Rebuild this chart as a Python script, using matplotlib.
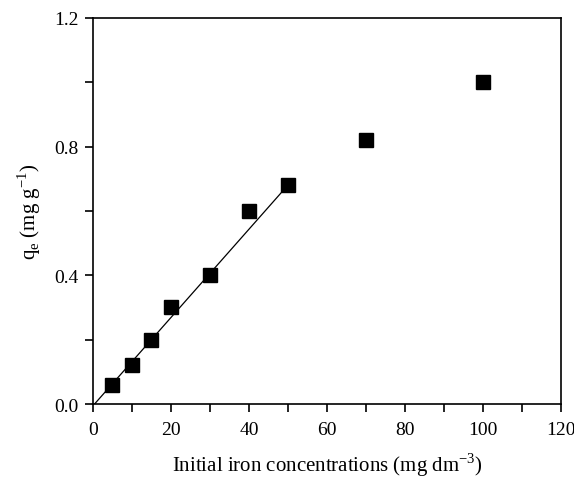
import matplotlib
matplotlib.use("Agg")
import matplotlib.pyplot as plt
from matplotlib.ticker import MultipleLocator, FormatStrFormatter

plt.rcParams['font.family'] = ['Liberation Serif', 'DejaVu Serif']
plt.rcParams['mathtext.fontset'] = 'custom'
plt.rcParams['mathtext.rm'] = 'Liberation Serif'
plt.rcParams['axes.unicode_minus'] = False

conc = [5, 10, 15, 20, 30, 40, 50, 70, 100]
qe = [0.06, 0.12, 0.20, 0.30, 0.40, 0.60, 0.68, 0.82, 1.00]
fit_x = [0.4, 50]
fit_y = [0.0, 0.68]

fig = plt.figure(figsize=(5.74, 4.81), dpi=100)
ax = fig.add_axes([0.162, 0.158, 0.815, 0.803])

ax.plot(fit_x, fit_y, color='black', lw=0.9)
ax.plot(conc, qe, linestyle='none', marker='s', markersize=10.5, color='black')

ax.set_xlim(0, 120)
ax.set_ylim(0, 1.2)
ax.xaxis.set_major_locator(MultipleLocator(20))
ax.xaxis.set_minor_locator(MultipleLocator(10))
ax.yaxis.set_major_locator(MultipleLocator(0.4))
ax.yaxis.set_minor_locator(MultipleLocator(0.2))
ax.yaxis.set_major_formatter(FormatStrFormatter('%.1f'))

ax.tick_params(which='both', direction='out', width=1.2, length=5.5, labelsize=14)
ax.tick_params(axis='x', which='both', pad=7)
ax.tick_params(axis='y', which='both', pad=5)
for s in ax.spines.values():
    s.set_linewidth(1.2)

ax.set_xlabel('Initial iron concentrations (mg dm$^{\\mathregular{-3}}$)', fontsize=15, labelpad=9)
ax.set_ylabel('q$_{\\mathregular{e}}$ (mg g$^{\\mathregular{-1}}$)', fontsize=15, labelpad=8)

fig.savefig('out.png', dpi=100)
